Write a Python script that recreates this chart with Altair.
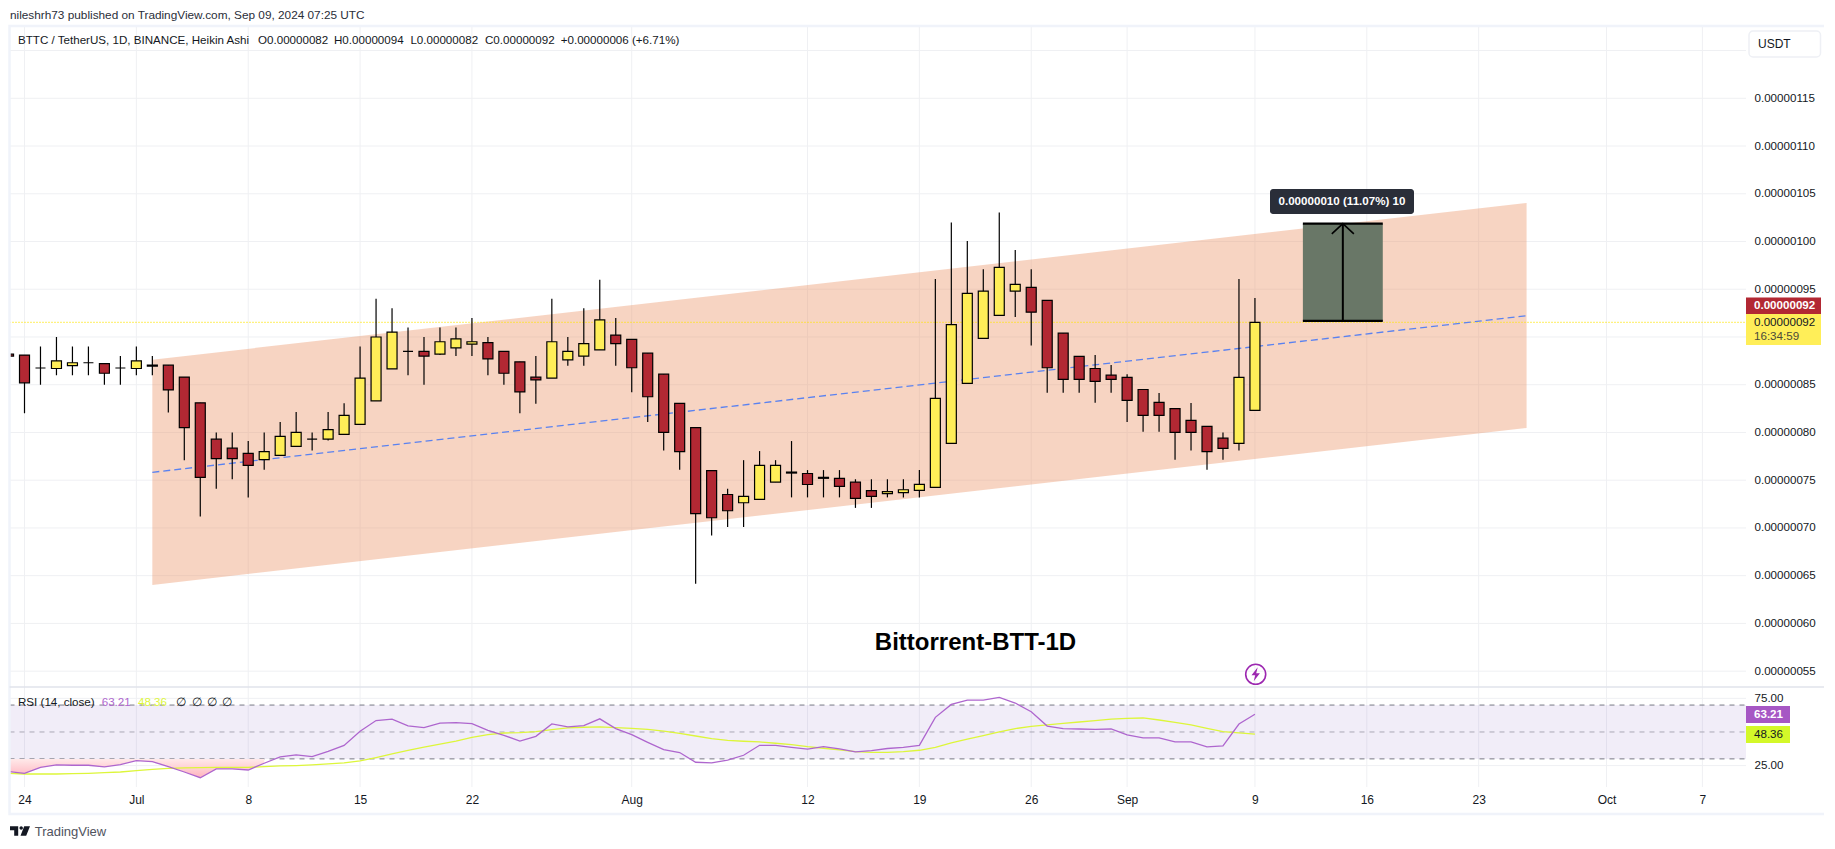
import altair as alt
import pandas as pd

# Prices are in units of 0.00000001 USDT; x is days since 24 Jun 2024.
days = list(range(-1, 78))
open_vals = [88.2, 88.1, 86.75, 86.7, 87, 87.3, 87.2, 86.75, 86.7, 87.05, 87.05, 85.8, 83.1, 79.3, 78.35, 77.8, 77.15,
             77.6, 78.55, 79.3, 79.3, 79.8, 80.85, 83.3, 86.65, 88.5, 88.5, 88.2, 88.85, 89.25, 89.4, 88.5, 87.4, 85.8,
             85.7, 87.6, 88, 88.65, 90.2, 89.75, 88.3, 86.1, 83.05, 80.5, 76, 73.5, 72.64, 73, 74.8, 75.85, 75.7, 75.3,
             75.2, 74.8, 73.9, 73.6, 73.7, 73.93, 74.25, 78.86, 85.14, 89.85, 92.26, 94.8, 95.2, 93.83, 90.4, 87.97,
             86.7, 86, 85.77, 84.5, 83.15, 82.5, 81.26, 80.64, 79.4, 78.86, 82.31]
high_vals = [88.2, 88.1, 89, 90, 89, 89, 87.2, 88, 89, 88, 87.05, 85.8, 83.1, 80, 80, 79.1, 80,
             81.1, 82.15, 80, 82.15, 83.05, 89, 94, 93, 91, 90, 91, 91, 92, 90, 88.5, 87.4, 88,
             94, 90, 93, 96, 92, 89.75, 88.3, 86.1, 83.05, 80.5, 76, 74.1, 77.1, 78.05, 77.1, 79.1, 76.06, 76.06,
             76.06, 75.1, 75.1, 75.1, 75.1, 76.06, 96.07, 102, 100.05, 97.1, 103.05, 99.1, 97.1, 93.83, 90.4, 87.97,
             88.1, 87.06, 86.1, 84.5, 84.13, 82.5, 83.08, 80.64, 80, 96.07, 94.08]
low_vals = [88, 82, 85, 86, 86, 86, 85, 85, 86, 86, 82.1, 77.1, 71.2, 74.1, 75.1, 73.2, 76.1,
            77.6, 78.55, 78.1, 79.15, 79.8, 80.85, 83.3, 86.65, 86, 85, 88.1, 88, 88, 86, 85, 82, 83,
            85.7, 87, 87, 88.65, 87, 84.2, 81.1, 78.1, 76.1, 64.15, 69.2, 70.1, 70.1, 73, 74.8, 73.2, 73.2, 73.2,
            73.2, 72.1, 72.1, 73.2, 73.2, 73.2, 74.25, 78.86, 85.14, 89.85, 92.26, 92.1, 89.1, 84.16, 84.16, 84.16,
            83.1, 84.16, 81.1, 80.08, 80.08, 77.14, 78.1, 76.1, 77.14, 78.1, 82.31]
close_vals = [88, 85.2, 86.75, 87.5, 87.3, 87.3, 86.2, 86.75, 87.5, 86.95, 84.45, 80.5, 75.3, 77.25, 77.25, 76.55, 78,
              79.6, 80, 79.3, 80.3, 81.8, 85.7, 90, 90.5, 88.5, 88, 89.5, 89.8, 89.5, 87.7, 86.2, 84.25, 85.5,
              89.5, 88.5, 89.3, 91.8, 89.3, 86.78, 83.74, 80, 78, 71.5, 71.07, 71.8, 73.3, 76.55, 76.55, 75.75, 74.55, 75.2,
              74.35, 73.1, 73.3, 73.8, 74, 74.56, 83.57, 91.3, 94.57, 94.8, 97.3, 95.5, 92.6, 86.78, 85.56, 85.56,
              85.35, 85.56, 83.36, 81.8, 81.8, 80, 80, 78, 78.33, 85.77, 91.53]

rsi_vals = [20.5, 19.25, 23.75, 25.5, 25.25, 25.25, 24, 25.75, 28.75, 28, 24.25, 20.25, 16, 22.5, 22.5, 21.75, 26.75,
            31.5, 33, 31.75, 35.5, 40, 50.5, 58.5, 59.5, 54.5, 53.25, 56.5, 57, 56.25, 51.25, 47.5, 43.25, 46.75,
            56, 53.75, 54.75, 59.75, 52.5, 48, 42.3, 36.9, 34.7, 27.5, 27, 29, 32.7, 40.1, 40.1, 38.6, 37.2, 39.1,
            37.4, 35.2, 36.2, 37.7, 38.6, 40.1, 60.9, 70.5, 73.7, 73.7, 75.7, 71.5, 65, 54.4, 52.5, 52.2,
            52, 52.2, 47.8, 45.6, 45.6, 42.6, 42.6, 38.9, 39.6, 55.9, 63.21]
rsi_ma_vals = [19.25, 18.75, 18.75, 18.75, 19, 19.25, 19.75, 20.25, 21.25, 22.25, 23, 23.25, 23.5, 23.75, 23.75, 23.75, 24.25,
               24.75, 25, 25.5, 26.25, 27, 28.5, 31, 33.75, 36.25, 38.75, 41, 43.25, 46, 48, 49.25, 49.5, 50.25,
               51.75, 53, 53.5, 53.75, 53.25, 52.7, 52, 50.7, 49, 47, 45, 43.8, 43.1, 42.6, 41.6, 40.6, 39.1, 37.9,
               36.7, 35.4, 34.9, 34.9, 35.4, 36.4, 38.6, 41.9, 44.6, 47.3, 50, 52.5, 54.2, 55.2, 56.4, 57.4,
               58.4, 59.6, 60.1, 60.4, 58.9, 57.2, 55.2, 52.7, 50.2, 49.3, 48.36]

channel_days = [8, 94]
channel_upper = [87.62, 104.03]
channel_mid = [75.83, 92.23]
channel_lower = [64.03, 80.47]
last_price = 91.53
measure_days = [80, 85]
measure_low, measure_high = 91.68, 101.87
arrow_days = [81.81, 82.5, 83.19]
arrow_vals = [100.8, 101.87, 100.8]
oversold_days = days[:17]

price_ticks = list(range(55, 121, 5))
rsi_ticks = [25, 75]
rsi_levels = [70, 50, 30]
time_ticks = [0, 7, 14, 21, 28, 38, 49, 56, 63, 69, 77, 84, 91, 99, 105]
time_labels = ["24", "Jul", "8", "15", "22", "Aug", "12", "19", "26", "Sep", "9", "16", "23", "Oct", "7"]

FONT = "Liberation Sans"
INK = "#131722"
GRID = "#EFF0F3"
OX, OY = 9.5, 26
W, H = 1736.5, 761
MAIN_BOTTOM = 661.3
XMIN, XMAX = -0.939, 107.73
RED, YELLOW = "#B22833", "#FFEE58"
PURPLE, LIME = "#AE66CE", "#DDF63A"

xs = alt.Scale(domain=[XMIN, XMAX], nice=False, zero=False, padding=0)
ys = alt.Scale(domain=[53.31, 122.57], range=[MAIN_BOTTOM, 0], nice=False, zero=False, padding=0)
yr = alt.Scale(domain=[9.1, 83.2], range=[H, MAIN_BOTTOM], nice=False, zero=False, padding=0)

label_map = ",".join(f"'{d}':'{t}'" for d, t in zip(time_ticks, time_labels))
x_axis = alt.Axis(values=time_ticks, labelExpr=f"{{{label_map}}}[datum.value]", grid=False,
                  domain=False, ticks=False, labelFont=FONT, labelFontSize=12, labelColor=INK, labelPadding=7,
                  labelFlush=False, labelOverlap=False, title=None)
price_axis = alt.Axis(orient="right", values=price_ticks,
                      labelExpr="(datum.value == 120 || datum.value == 90) ? '' : format(datum.value * 1e-8, '.8f')",
                      grid=False, domain=False, ticks=False, labelFont=FONT, labelFontSize=11.6, labelColor=INK,
                      labelPadding=8, labelOverlap=False, title=None)
rsi_axis = alt.Axis(orient="right", values=rsi_ticks, format=".2f", grid=False, domain=False,
                    ticks=False, labelFont=FONT, labelFontSize=11.6, labelColor=INK, labelPadding=8, title=None)


def X(f="d:Q"):
    return alt.X(f, scale=xs, axis=x_axis)


def Y(f):
    return alt.Y(f, scale=ys, axis=price_axis)


def R(f):
    return alt.Y(f, scale=yr, axis=rsi_axis)


candles = pd.DataFrame({"d": days, "o": open_vals, "h": high_vals, "l": low_vals, "c": close_vals})
candles["top"] = candles[["o", "c"]].max(axis=1)
candles["bot"] = candles[["o", "c"]].min(axis=1)
candles["col"] = [YELLOW if c > o else RED if c < o else "#000000" for o, c in zip(open_vals, close_vals)]

channel = pd.DataFrame({"d": channel_days, "u": channel_upper, "m": channel_mid, "l": channel_lower})
one = pd.DataFrame({"a": [0]})

v_grid = alt.Chart(pd.DataFrame({"d": time_ticks})).mark_rule(color=GRID, strokeWidth=1).encode(
    x=X(), y=alt.value(0), y2=alt.value(H))
h_grid = alt.Chart(pd.DataFrame({"d": [XMIN] * len(price_ticks), "e": [XMAX] * len(price_ticks), "v": price_ticks})
                   ).mark_rule(color=GRID, strokeWidth=1).encode(x=X(), x2="e:Q", y=Y("v:Q"))
channel_area = alt.Chart(channel).mark_area(color="#EB9466", opacity=0.4).encode(
    x=X(), y=Y("l:Q"), y2="u:Q")
last_line = alt.Chart(pd.DataFrame({"d": [XMIN], "e": [XMAX], "v": [last_price]})).mark_rule(
    color="#FFE500", strokeWidth=1.2, strokeDash=[1, 2]).encode(x=X(), x2="e:Q", y=Y("v:Q"))
mid_line = alt.Chart(channel).mark_line(color="#5A82F0", strokeWidth=1.3, strokeDash=[7, 4]).encode(
    x=X(), y=Y("m:Q"))
wicks = alt.Chart(candles).mark_rule(color="#000000", strokeWidth=1.2, clip=True).encode(
    x=X(), y=Y("l:Q"), y2="h:Q")
bodies = alt.Chart(candles).mark_bar(size=10, stroke="#000000", strokeWidth=1.2, clip=True).encode(
    x=X(), y=Y("bot:Q"), y2="top:Q", fill=alt.Fill("col:N", scale=None))

measure_rect = alt.Chart(pd.DataFrame({"d": [measure_days[0]], "b": [measure_days[1]], "l": [measure_low], "h": [measure_high]})
                         ).mark_rect(color="#697767").encode(
    x=X(), x2="b:Q", y=Y("l:Q"), y2="h:Q")
measure_edges = alt.Chart(pd.DataFrame({"d": measure_days[:1] * 2, "b": measure_days[1:] * 2, "v": [measure_low, measure_high]})
                          ).mark_rule(color="#000000", strokeWidth=2.2).encode(
    x=X(), x2="b:Q", y=Y("v:Q"))
shaft = alt.Chart(pd.DataFrame({"d": [arrow_days[1]], "l": [measure_low], "h": [measure_high]})
                  ).mark_rule(color="#000000", strokeWidth=2).encode(x=X(), y=Y("l:Q"), y2="h:Q")
head = alt.Chart(pd.DataFrame({"d": arrow_days, "v": arrow_vals, "i": [0, 1, 2]})).mark_line(
    color="#000000", strokeWidth=1.6).encode(x=X(), y=Y("v:Q"), order="i:Q")

main = alt.layer(v_grid, h_grid, channel_area, last_line, mid_line, wicks, bodies, measure_rect, measure_edges, shaft, head)

# RSI pane
rsi_df = pd.DataFrame({"d": days, "r": rsi_vals, "m": rsi_ma_vals})
rsi_grid = alt.Chart(pd.DataFrame({"d": [XMIN] * 2, "e": [XMAX] * 2, "v": rsi_ticks})).mark_rule(
    color=GRID, strokeWidth=1).encode(x=X(), x2="e:Q", y=R("v:Q"))
band = alt.Chart(pd.DataFrame({"d": [XMIN], "e": [XMAX], "h": [rsi_levels[0]], "l": [rsi_levels[2]]})
                 ).mark_rect(color="#7E57C2", opacity=0.11).encode(x=X(), x2="e:Q", y=R("l:Q"), y2="h:Q")
levels = alt.Chart(pd.DataFrame({"d": [XMIN] * 3, "e": [XMAX] * 3, "v": rsi_levels, "c": ["#787B86", "#ABA8B5", "#787B86"]})
                   ).mark_rule(strokeWidth=1, strokeDash=[5, 5]).encode(
    x=X(), x2="e:Q", y=R("v:Q"), color=alt.Color("c:N", scale=None))
over = rsi_df[rsi_df["d"].isin(oversold_days)].assign(z=rsi_levels[2])
pink = alt.Chart(over).transform_calculate(rc="min(datum.r, 30)").mark_area(
    clip=True,
    color=alt.Gradient(gradient="linear", x1=0, y1=0, x2=0, y2=1,
                       stops=[alt.GradientStop(color="#FFEAEA", offset=0), alt.GradientStop(color="#FFB3BE", offset=1)])
).encode(x=X(), y=R("rc:Q"), y2="z:Q")
ma_line = alt.Chart(rsi_df).mark_line(color=LIME, strokeWidth=1.3, clip=True).encode(x=X(), y=R("m:Q"))
rsi_line = alt.Chart(rsi_df).mark_line(color=PURPLE, strokeWidth=1.3, clip=True).encode(x=X(), y=R("r:Q"))
rsi_pane = alt.layer(rsi_grid, band, levels, pink, ma_line, rsi_line)


# Chrome: coordinates are page pixels, converted to the plot origin.
def label(text, x, y, size=12, color=INK, weight="normal", align="left"):
    return alt.Chart(one).mark_text(font=FONT, fontSize=size, color=color, fontWeight=weight, align=align,
                                    baseline="middle").encode(
        x=alt.value(x - OX), y=alt.value(y - OY), text=alt.value(text))


def box(x1, y1, x2, y2, fill, stroke=None, radius=0, width=1):
    kw = dict(color=fill)
    if fill is None:
        kw = dict(filled=False)
    if stroke:
        kw.update(stroke=stroke, strokeWidth=width)
    if radius:
        kw.update(cornerRadius=radius)
    return alt.Chart(one).mark_rect(**kw).encode(
        x=alt.value(x1 - OX), x2=alt.value(x2 - OX), y=alt.value(y1 - OY), y2=alt.value(y2 - OY))


BOLT = "M0.2,-0.7 L-0.42,0.1 L-0.05,0.1 L-0.2,0.7 L0.42,-0.1 L0.05,-0.1 Z"
LOGO = ("M-1,-0.47 L-0.18,-0.47 L-0.18,0.47 L-0.58,0.47 L-0.58,-0.07 L-1,-0.07 Z "
        "M-0.05,-0.3 A0.17,0.17 0 1 1 0.29,-0.3 A0.17,0.17 0 1 1 -0.05,-0.3 Z "
        "M0.42,-0.47 L1,-0.47 L0.62,0.47 L0.05,0.47 Z")


def glyph(shape, x, y, color):
    return alt.Chart(one).mark_point(shape=shape, size=400, filled=True, color=color, opacity=1).encode(
        x=alt.value(x - OX), y=alt.value(y - OY))


legend_texts = ["BTTC / TetherUS, 1D, BINANCE, Heikin Ashi", "O0.00000082", "H0.00000094", "L0.00000082",
                "C0.00000092", "+0.00000006 (+6.71%)"]
legend_xs = [18, 258, 334, 410.4, 485, 560.7]
rsi_legend = [("RSI (14, close)", 18, INK), ("63.21", 101.7, PURPLE), ("48.36", 138, LIME), ("∅", 175.7, INK),
              ("∅", 191.7, INK), ("∅", 207, INK), ("∅", 221.7, INK)]

chrome = [
    box(9.5, 26, 1825.5, 814, None, stroke="#F0F3FA", width=2.5),
    alt.Chart(one).mark_rule(color="#E0E3EB", strokeWidth=1.5).encode(
        x=alt.value(0), x2=alt.value(1825 - OX), y=alt.value(687 - OY)),
    box(1749, 31, 1820.5, 57, "#FFFFFF", stroke="#EEF0F5", radius=4, width=1.5),
    label("USDT", 1758, 44),
    box(1270, 189, 1414, 214, "#2A2E39", radius=3),
    label("0.00000010 (11.07%) 10", 1342, 201.5, size=11.6, color="#FFFFFF", weight="bold", align="center"),
    box(1746, 297.5, 1821, 314, RED),
    label("0.00000092", 1754, 306, size=11.6, color="#FFFFFF", weight="bold"),
    box(1746, 314, 1821, 345, YELLOW),
    label("0.00000092", 1754, 322.5, size=11.6),
    label("16:34:59", 1754, 336.5, size=11.6, color="#4A4A3A"),
    box(1746, 706, 1790, 723, "#A657C4"),
    label("63.21", 1754, 715, size=11.6, color="#FFFFFF", weight="bold"),
    box(1746, 726, 1790, 743, "#D4F829"),
    label("48.36", 1754, 735, size=11.6),
    label("nileshrh73 published on TradingView.com, Sep 09, 2024 07:25 UTC", 10, 15, size=11.8, color="#2A2E39"),
    label("Bittorrent-BTT-1D", 975.5, 642.5, size=24, color="#000000", weight="bold", align="center"),
    alt.Chart(one).mark_point(shape="circle", size=400, filled=False, color="#9C27B0", strokeWidth=1.6, opacity=1).encode(
        x=alt.value(1255.7 - OX), y=alt.value(674.3 - OY)),
    glyph(BOLT, 1255.7, 674.3, "#9C27B0"),
    glyph(LOGO, 20, 831, "#131722"),
    label("TradingView", 34.7, 832, size=13, color="#50535E"),
]
chrome += [label(t, x, 41, size=11.6) for t, x in zip(legend_texts, legend_xs)]
chrome += [label(t, x, 702.7, size=11.6, color=c) for t, x, c in rsi_legend]

chart = alt.layer(main, rsi_pane, *chrome).resolve_scale(y="independent").properties(
    width=W, height=H,
    autosize=alt.AutoSizeParams(type="none"),
    padding={"left": 1.5, "top": 18, "right": 78, "bottom": 54},
).configure_view(stroke=None)

chart.save("out.html", embed_options={"renderer": "svg", "actions": False})
